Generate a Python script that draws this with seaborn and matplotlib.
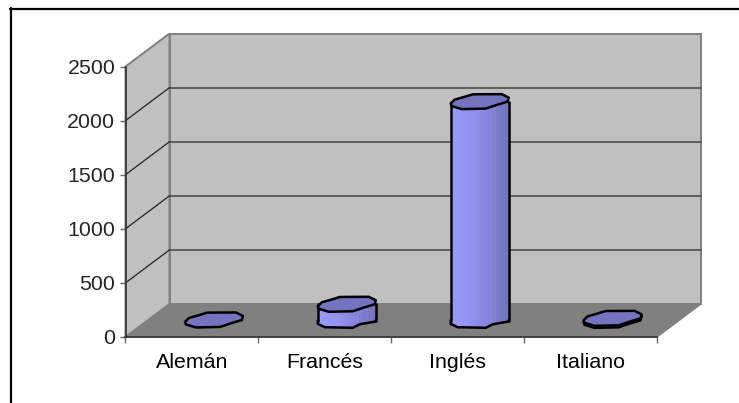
import matplotlib
matplotlib.use("Agg")
import matplotlib.pyplot as plt
import numpy as np
import seaborn as sns
from matplotlib.patches import Polygon, Rectangle
from matplotlib.transforms import Affine2D, ScaledTranslation

categories = ["Alemán", "Francés", "Inglés", "Italiano"]
values = [5, 150, 2023, 20]
y_ticks = [0, 500, 1000, 1500, 2000, 2500]

W, H = 739, 403
sns.set_style("white")
plt.rcParams["font.family"] = ["Liberation Sans", "DejaVu Sans"]
fig = plt.figure(figsize=(W / 100, H / 100), dpi=100, facecolor="white")

L, R, T, B = 125.5, 657, 66.5, 337
ax = fig.add_axes([L / W, 1 - B / H, (R - L) / W, (B - T) / H])
ax.set_facecolor("none")
DX, DY = 44, 33
BAR_W = 58
back = ax.transData + Affine2D().translate(DX, DY)
mid = ax.transData + Affine2D().translate(DX / 2, DY / 2)

sns.barplot(x=categories, y=values, ax=ax, width=BAR_W / 133, color="#9999FF",
            saturation=1, zorder=5, linewidth=0)
ax.set_xlim(-0.5, 3.5)
ax.set_ylim(0, 2500)
ax.set_xticks(np.arange(-0.5, 4))
ax.set_xticklabels([])
ax.set_yticks(y_ticks)
ax.set_xlabel("")
ax.set_ylabel("")
for i, c in enumerate(categories):
    ax.annotate(c, (i, 0), xytext=(0, -31.5), textcoords="offset pixels",
                ha="center", va="baseline", fontsize=15.4, color="black",
                annotation_clip=False)
ax.tick_params(axis="y", length=4.3, width=1, color="#666666", labelsize=15.4, pad=3, left=True)
ax.tick_params(axis="x", length=4.3, width=1, color="#666666", bottom=True)
for s in ("top", "right"):
    ax.spines[s].set_visible(False)
for s in ("left", "bottom"):
    ax.spines[s].set_color("#333333")
    ax.spines[s].set_linewidth(1.2)
    ax.spines[s].set_zorder(4)

# walls and floor
x0, x1 = ax.get_xlim()
y0, y1 = ax.get_ylim()
px = ax.transData.transform
ax.add_patch(Rectangle((x0, y0), x1 - x0, y1 - y0, transform=back, fc="#C0C0C0",
                       ec="#808080", lw=1.4, clip_on=False, zorder=0))
side = [px((x0, y0)), px((x0, y1)), px((x0, y1)) + (DX, DY), px((x0, y0)) + (DX, DY)]
ax.add_patch(Polygon(side, closed=True, transform=None, fc="#C0C0C0", ec="#808080",
                     lw=1.4, clip_on=False, zorder=0.5))
floor = [px((x0, y0)), px((x1, y0)), px((x1, y0)) + (DX, DY), px((x0, y0)) + (DX, DY)]
ax.add_patch(Polygon(floor, closed=True, transform=None, fc="#808080", ec="#808080",
                     lw=1, clip_on=False, zorder=1))
for v in y_ticks[1:-1]:
    ax.plot([x0, x1], [v, v], transform=back, color="#555555", lw=1.3,
            clip_on=False, zorder=1.5)
    p = px((x0, v))
    ax.plot([p[0], p[0] + DX], [p[1], p[1] + DY], transform=None, color="#222222",
            lw=0.9, clip_on=False, zorder=1.5)

# cylinder shapes, in pixels around the centre of each cap and base
top_shape = np.array([[-29, -2], [-25, 2], [-16, 4.5], [-7, 7.3], [22, 7.5], [29, 4],
                      [28, 0], [18, -3], [6, -7], [-18, -7.5], [-28, -4.5]], float)
base_shape = np.array([[-29, 0], [-29, -3.3], [-22, -6.7], [6, -7.3], [13, -3.8], [29, -1], [29, 0]], float)
shades = sns.blend_palette(["#9999FF", "#9292F2", "#8585DA", "#7575BC"], 14)
edges = np.linspace(-BAR_W / 2, BAR_W / 2, len(shades) + 1)
u = (x1 - x0) / (R - L)

for rect in ax.containers[0]:
    rect.set_transform(mid)
    rect.set_clip_on(False)

for i, v in enumerate(values):
    to_pt = Affine2D() + ScaledTranslation(i, v, mid)
    to_base = Affine2D() + ScaledTranslation(i, 0, mid)
    if v >= 100:
        base_clip = Polygon(base_shape, closed=True, transform=to_base, fc="none", ec="none")
        ax.add_patch(base_clip)
        for k, c in enumerate(shades):
            xa, w = edges[k], edges[k + 1] - edges[k] + 0.6
            ax.bar(i + xa * u, v, width=w * u, align="edge", color=c, linewidth=0,
                   zorder=5, transform=mid, clip_on=False)
            r = ax.add_patch(Rectangle((xa, -8), w, 8.5, transform=to_base, fc=c, lw=0, zorder=5))
            r.set_clip_box(None)
            r.set_clip_path(base_clip)
        a, b = mid.transform((i, 0)), mid.transform((i, v))
        for sx in (-BAR_W / 2, BAR_W / 2):
            ax.plot([a[0] + sx, b[0] + sx], [a[1], b[1]], transform=None, color="black",
                    lw=1.8, clip_on=False, zorder=6)
        ax.plot(base_shape[:, 0], base_shape[:, 1], transform=to_base, color="black", lw=1.8,
                clip_on=False, zorder=6, solid_capstyle="round", solid_joinstyle="round")
    elif v >= 15:
        ax.add_patch(Polygon(top_shape + (0, -2), closed=True, transform=to_pt, fc="#9999FF",
                             ec="black", lw=1.8, joinstyle="round", clip_on=False, zorder=6))
    ax.add_patch(Polygon(top_shape, closed=True, transform=to_pt, fc="#7373BF",
                         ec="black", lw=1.8, joinstyle="round", clip_on=False, zorder=7))

# chart area edge: only top and left fall inside the picture
fig.add_artist(plt.Line2D([11 / W, 11 / W], [0, 1 - 8 / H], color="black", lw=1.6))
fig.add_artist(plt.Line2D([10 / W, 1], [1 - 9 / H, 1 - 9 / H], color="black", lw=1.6))

fig.savefig("out.png", dpi=100, facecolor="white")
